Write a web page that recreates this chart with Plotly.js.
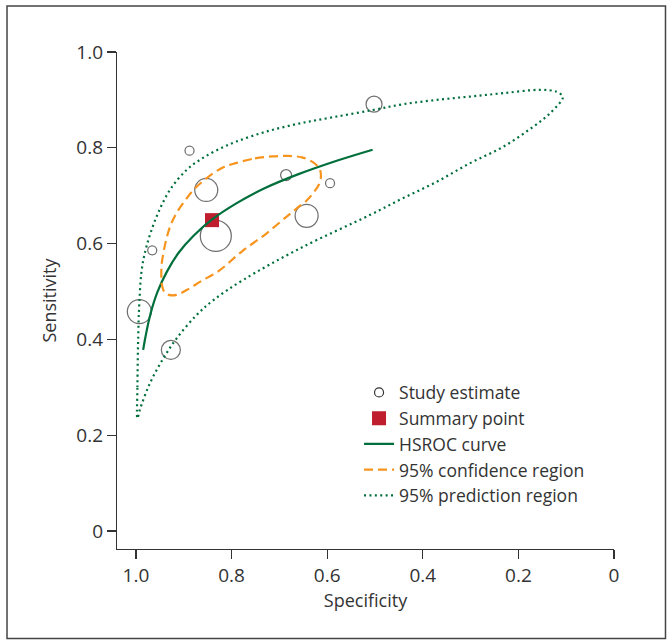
<!DOCTYPE html>
<html>
<head>
<meta charset="utf-8">
<script src="https://cdn.plot.ly/plotly-3.0.1.min.js"></script>
<style>html,body{margin:0;padding:0;background:#fff;}#chart{width:668px;height:640px;}</style>
</head>
<body>
<div id="chart"></div>
<script>
// Study estimates (specificity, sensitivity, marker diameter ~ study weight)
var studySpec = [0.888, 0.502, 0.853, 0.686, 0.594, 0.643, 0.833, 0.966, 0.993, 0.927];
var studySens = [0.794, 0.891, 0.712, 0.743, 0.726, 0.658, 0.616, 0.586, 0.458, 0.378];
var studySize = [9, 16, 23, 11, 9, 23, 31, 9, 24, 19];

// Summary point
var summarySpec = [0.841];
var summarySens = [0.649];

// HSROC curve
var hsrocSpec = [0.985, 0.980, 0.970, 0.955, 0.935, 0.910, 0.880, 0.840, 0.790, 0.730, 0.660, 0.580, 0.505];
var hsrocSens = [0.378, 0.406, 0.452, 0.499, 0.542, 0.582, 0.616, 0.651, 0.684, 0.716, 0.745, 0.773, 0.796];

// 95% confidence region
var confSpec = [0.791, 0.751, 0.715, 0.682, 0.653, 0.630, 0.616, 0.613, 0.617, 0.629, 0.643, 0.663, 0.684, 0.726, 0.778, 0.828, 0.863, 0.894, 0.915, 0.931, 0.941, 0.946, 0.947, 0.946, 0.941, 0.935, 0.927, 0.915, 0.898, 0.879, 0.858, 0.837, 0.816, 0.791];
var confSens = [0.768, 0.778, 0.782, 0.783, 0.780, 0.770, 0.756, 0.741, 0.724, 0.706, 0.690, 0.674, 0.657, 0.622, 0.584, 0.542, 0.522, 0.503, 0.493, 0.493, 0.500, 0.516, 0.539, 0.559, 0.589, 0.615, 0.640, 0.664, 0.689, 0.713, 0.732, 0.748, 0.760, 0.768];

// 95% prediction region
var predSpec = [0.997, 0.997, 0.995, 0.993, 0.988, 0.978, 0.957, 0.929, 0.894, 0.866, 0.831, 0.790, 0.727, 0.657, 0.587, 0.504, 0.441, 0.371, 0.301, 0.232, 0.155, 0.120, 0.107, 0.109, 0.134, 0.169, 0.232, 0.301, 0.371, 0.441, 0.510, 0.657, 0.776, 0.838, 0.873, 0.915, 0.943, 0.971, 0.992, 0.997];
var predSens = [0.235, 0.300, 0.420, 0.475, 0.545, 0.594, 0.656, 0.712, 0.754, 0.775, 0.795, 0.813, 0.834, 0.851, 0.864, 0.879, 0.891, 0.900, 0.907, 0.914, 0.921, 0.917, 0.907, 0.900, 0.872, 0.844, 0.802, 0.768, 0.729, 0.695, 0.660, 0.590, 0.524, 0.482, 0.451, 0.402, 0.360, 0.308, 0.253, 0.235];

var tickVals = [0, 0.2, 0.4, 0.6, 0.8, 1.0];
var yTickText = ["0", "0.2", "0.4", "0.6", "0.8", "1.0"];
var xTickText = ["0", "0.2", "0.4", "0.6", "0.8", "1.0"];

var GREEN = "#006f3c", ORANGE = "#f7941d", RED = "#be1e2d", INK = "#333333";
var FONT = "Open Sans, Noto Sans, sans-serif";

var traces = [
  // legend entry for the study circles (no drawn point)
  {x: [null], y: [null], mode: "markers", type: "scatter", name: "Study estimate",
   marker: {symbol: "circle-open", size: 9, color: INK, line: {color: INK, width: 1.2}}},
  {x: studySpec, y: studySens, mode: "markers", type: "scatter", name: "Study estimate",
   showlegend: false,
   marker: {symbol: "circle-open", size: studySize, color: INK, line: {color: INK, width: 1.25}}},
  {x: summarySpec, y: summarySens, mode: "markers", type: "scatter", name: "Summary point",
   marker: {symbol: "square", size: 14, color: RED}},
  {x: hsrocSpec, y: hsrocSens, mode: "lines", type: "scatter", name: "HSROC curve",
   line: {color: GREEN, width: 2.2, shape: "spline"}},
  {x: confSpec, y: confSens, mode: "lines", type: "scatter", name: "95% confidence region",
   line: {color: ORANGE, width: 2.2, dash: "9px,5px", shape: "spline"}},
  {x: predSpec, y: predSens, mode: "lines", type: "scatter", name: "95% prediction region",
   line: {color: GREEN, width: 2.2, dash: "2px,3.4px", shape: "spline"}}
];

var layout = {
  width: 668, height: 640,
  margin: {l: 117, r: 54, t: 52, b: 91},
  paper_bgcolor: "#fff", plot_bgcolor: "#fff",
  font: {family: FONT, size: 18, color: INK},
  showlegend: true,
  legend: {x: 0.487, y: 0.351, xanchor: "left", yanchor: "top", bgcolor: "rgba(0,0,0,0)",
           font: {family: FONT, size: 17.5, color: INK}, traceorder: "normal"},
  xaxis: {range: [1.0397, 0], tickvals: tickVals, ticktext: xTickText,
          showline: true, linecolor: INK, linewidth: 1.2, ticks: "outside", ticklen: 9,
          tickcolor: INK, tickwidth: 1.2, showgrid: false, zeroline: false,
          tickfont: {family: FONT, size: 19, color: INK},
          title: {text: "Specificity", font: {family: FONT, size: 18, color: INK}, standoff: 3}},
  yaxis: {range: [-0.0376, 1.0], tickvals: tickVals, ticktext: yTickText,
          showline: true, linecolor: INK, linewidth: 1.2, ticks: "outside", ticklen: 9,
          tickcolor: INK, tickwidth: 1.2, showgrid: false, zeroline: false,
          tickfont: {family: FONT, size: 19, color: INK},
          title: {text: "Sensitivity", font: {family: FONT, size: 18, color: INK}, standoff: 15}},
  shapes: [{type: "rect", xref: "paper", yref: "paper",
            x0: -0.2213, x1: 1.1036, y0: -0.1801, y1: 1.0926,
            line: {color: "#444", width: 1.5}, fillcolor: "rgba(0,0,0,0)"}]
};

Plotly.newPlot("chart", traces, layout, {displayModeBar: false, staticPlot: true});
</script>
</body>
</html>
